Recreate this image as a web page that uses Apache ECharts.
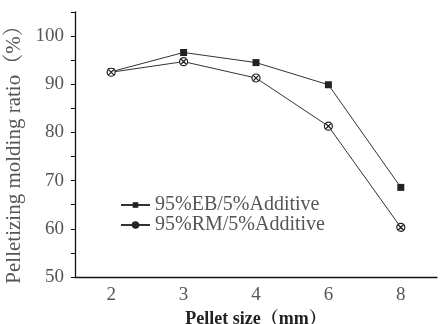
<!DOCTYPE html>
<html>
<head>
<meta charset="utf-8">
<script src="https://cdn.jsdelivr.net/npm/echarts@6/dist/echarts.min.js"></script>
<style>
  html, body { margin: 0; padding: 0; background: #fff; }
  #chart { width: 440px; height: 324px; }
</style>
</head>
<body>
<div id="chart"></div>
<script>
// pellet sizes (mm)
var sizes = ['2', '3', '4', '6', '8'];
var ebValues = [92.6, 96.6, 94.5, 89.9, 68.6];
var rmValues = [92.5, 94.7, 91.3, 81.3, 60.3];
var seriesNames = ['95%EB/5%Additive', '95%RM/5%Additive'];

var serif = '"Liberation Serif", "DejaVu Serif", "Noto Serif CJK SC", "Noto Sans CJK SC", serif';
var crossCircle = 'path://M10,1A9,9,0,1,1,9.99,1ZM3.6,3.6L16.4,16.4M16.4,3.6L3.6,16.4';

var chart = echarts.init(document.getElementById('chart'));
chart.setOption({
  backgroundColor: '#fff',
  animation: false,
  grid: { left: 75, right: 3, top: 12, bottom: 47, outerBoundsMode: 'none', containLabel: false },
  legend: {
    left: 115,
    top: 190,
    orient: 'vertical',
    itemGap: 0,
    itemWidth: 29,
    itemHeight: 7,
    textStyle: { fontFamily: serif, fontSize: 20, lineHeight: 16, color: '#555' },
    data: seriesNames
  },
  xAxis: [{
    type: 'category',
    data: sizes,
    boundaryGap: true,
    name: 'Pellet size（mm）',
    nameLocation: 'middle',
    nameGap: 25,
    nameTextStyle: { fontFamily: serif, fontSize: 18, fontWeight: 'bold', color: '#222' },
    axisLine: { lineStyle: { color: '#111', width: 1.3 } },
    axisTick: { alignWithLabel: true, length: 4, lineStyle: { color: '#111' } },
    axisLabel: { fontFamily: serif, fontSize: 19, color: '#555', margin: 9 },
    splitLine: { show: false }
  }, {
    type: 'category',
    data: sizes,
    boundaryGap: true,
    position: 'bottom',
    axisLine: { show: false },
    axisTick: { length: 3, lineStyle: { color: '#111' } },
    axisLabel: { show: false },
    splitLine: { show: false }
  }],
  yAxis: {
    type: 'value',
    min: 50,
    max: 105,
    interval: 5,
    name: 'Pelletizing molding ratio（%）',
    nameLocation: 'middle',
    nameGap: 43,
    nameTextStyle: { fontFamily: serif, fontSize: 21, color: '#555', padding: [0, 10, 0, 0] },
    axisLine: { show: true, lineStyle: { color: '#111', width: 1.3 } },
    axisTick: { show: true, length: 4, lineStyle: { color: '#111' } },
    axisLabel: {
      fontFamily: serif, fontSize: 19, color: '#555', margin: 11,
      formatter: function (v) { return v % 10 === 0 && v <= 100 ? v : ''; }
    },
    splitLine: { show: false }
  },
  series: [{
    name: seriesNames[0],
    type: 'line',
    data: ebValues,
    symbol: 'rect',
    symbolSize: 7,
    lineStyle: { color: '#333', width: 1 },
    itemStyle: { color: '#222' }
  }, {
    name: seriesNames[1],
    type: 'line',
    data: rmValues,
    symbol: crossCircle,
    symbolSize: 8,
    lineStyle: { color: '#333', width: 1 },
    itemStyle: { color: '#fff', borderColor: '#222', borderWidth: 1.2 }
  }]
});
</script>
</body>
</html>
